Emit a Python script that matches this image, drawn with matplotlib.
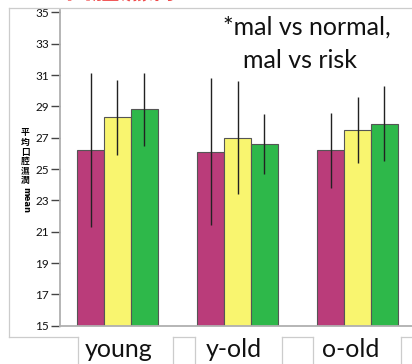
import matplotlib.pyplot as plt
from matplotlib.lines import Line2D
import numpy as np

W, H = 412, 364

groups = ['young', 'y-old', 'o-old']
mal_mean = [26.2, 26.1, 26.2]
normal_mean = [28.3, 27.0, 27.5]
risk_mean = [28.8, 26.6, 27.9]
mal_err = [4.9, 4.7, 2.4]
normal_err = [2.4, 3.6, 2.1]
risk_err = [2.3, 1.9, 2.4]
yticks = [15, 17, 19, 21, 23, 25, 27, 29, 31, 33, 35]
ylabel_chars = ['平', '均', '口', '腔', '濕', '潤']

colors = ['#BA3C7A', '#F9F56F', '#2EB84A']


def fx(px):
    return px / W


def fy(py):
    return 1 - py / H


fig = plt.figure(figsize=(W / 100, H / 100), dpi=100)
fig.patch.set_facecolor('white')

# axes: left spine at x=60px, value 15 at y=325.7px, top at y=10px
ax = fig.add_axes([fx(60), fy(325.7), 1 - fx(60), fy(10) - fy(325.7)])
ax.set_facecolor('none')

x = np.arange(len(groups))
bw = 0.2225
series = [(mal_mean, mal_err), (normal_mean, normal_err), (risk_mean, risk_err)]
for i, (m, e) in enumerate(series):
    xs = x + (i - 1) * bw
    ax.bar(xs, np.array(m) - 15, bottom=15, width=bw, color=colors[i],
           edgecolor='#555555', linewidth=0.8, zorder=2)
    ax.errorbar(xs, m, yerr=e, fmt='none', ecolor='#222222',
                elinewidth=1.0, capsize=0, zorder=3)

ax.set_xlim(-0.479, 2.454)
ax.set_ylim(15, 35.15)
ax.set_yticks(yticks)
ax.set_yticklabels([str(t) for t in yticks], fontfamily='Lato', fontsize=8.5)
ax.set_xticks([])
for s in ['top', 'right']:
    ax.spines[s].set_visible(False)
for s in ['left', 'bottom']:
    ax.spines[s].set_color('#b0b0b0')
    ax.spines[s].set_linewidth(1.3)
ax.tick_params(axis='y', length=6.5, width=1.0, color='#444444', pad=1.5,
               labelcolor='#111111')

# stacked y label
for k, ch in enumerate(ylabel_chars):
    fig.text(fx(25), fy(133 + k * 9.6), ch, fontfamily='Noto Sans CJK TC',
             fontsize=6.3, fontweight='bold', ha='center', va='center')
fig.text(fx(25.5), fy(200), 'mean', fontfamily='DejaVu Sans', fontsize=6,
         fontweight='bold', rotation=-90, ha='center', va='center')

# frame lines around chart and label boxes
line_kw = dict(color='#cccccc', linewidth=0.9, transform=fig.transFigure)
segs = [
    ((9, 8), (9, 337)),
    ((9, 8), (412, 8)),
    ((9, 337), (77.7, 337)),
    ((172.7, 337), (195, 337)),
    ((281.7, 337), (312.7, 337)),
    ((400.7, 337), (412, 337)),
]
for xp in [77.7, 172.7, 195, 281.7, 312.7, 400.7]:
    segs.append(((xp, 337), (xp, 364)))
for (x0, y0), (x1, y1) in segs:
    fig.add_artist(Line2D([fx(x0), fx(x1)], [fy(y0), fy(y1)], **line_kw))

# category labels
for cx, g in zip([119, 233.3, 350.8], groups):
    fig.text(fx(cx), fy(357.3), g, fontfamily='Lato', fontsize=18,
             ha='center', va='baseline', color='#111111')

# annotation
fig.text(fx(223), fy(35), '*mal vs normal,', fontfamily='Lato', fontsize=18,
         ha='left', va='baseline', color='#111111')
fig.text(fx(243), fy(68), 'mal vs risk', fontfamily='Lato', fontsize=18,
         ha='left', va='baseline', color='#111111')

# red heading, mostly above the top edge
fig.text(fx(64), fy(-1.8), '口腔濕潤', fontfamily='Noto Sans CJK TC', fontsize=20,
         fontweight='bold', color='#F04848', ha='left', va='baseline')

fig.savefig('out.png', dpi=100)
